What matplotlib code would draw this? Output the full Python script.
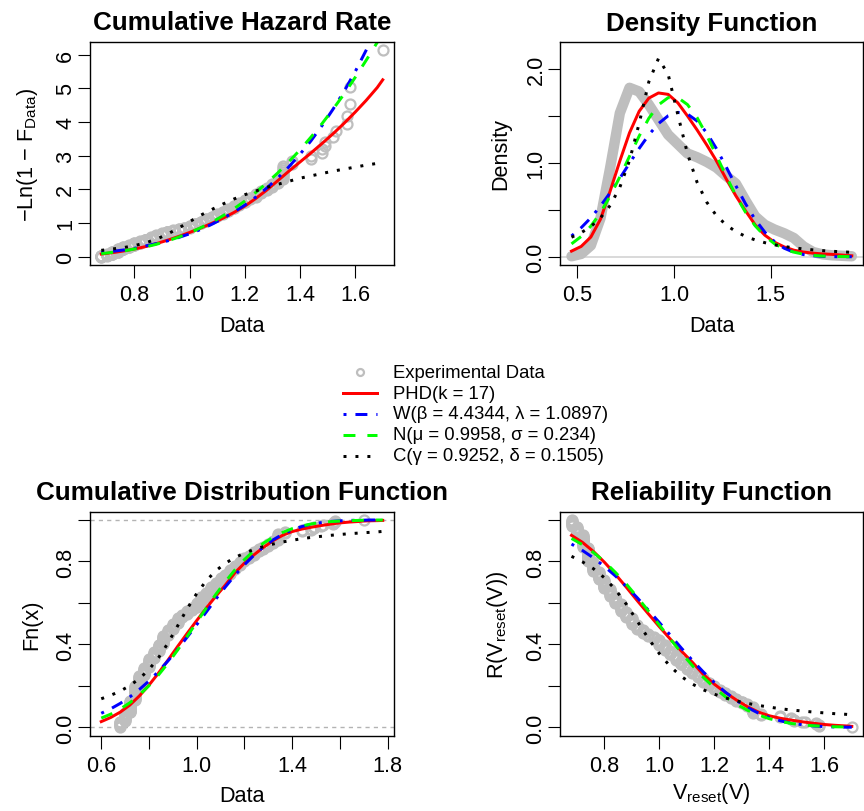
import numpy as np
import matplotlib
matplotlib.use("Agg")
import matplotlib.pyplot as plt

plt.rcParams['font.family'] = 'Liberation Sans'
plt.rcParams['mathtext.fontset'] = 'custom'
plt.rcParams['mathtext.rm'] = 'Liberation Sans'
plt.rcParams['mathtext.it'] = 'Liberation Sans:italic'
plt.rcParams['mathtext.bf'] = 'Liberation Sans:bold'

# experimental V_reset sample: measured value and how often it occurs
v_values = [0.68, 0.70, 0.72, 0.74, 0.76, 0.78, 0.80, 0.82, 0.84, 0.86, 0.88, 0.90,
            0.92, 0.94, 0.96, 0.98, 1.00, 1.02, 1.04, 1.06, 1.08, 1.10, 1.12, 1.14,
            1.16, 1.18, 1.20, 1.22, 1.24, 1.26, 1.28, 1.30, 1.32, 1.34, 1.37, 1.44,
            1.48, 1.49, 1.52, 1.53, 1.57, 1.58, 1.70]
v_counts = [7, 9, 14, 16, 11, 9, 10, 8, 8, 9, 7, 7,
            6, 4, 4, 3, 6, 6, 5, 6, 5, 5, 4, 5,
            5, 4, 4, 3, 4, 3, 3, 3, 3, 8, 2, 2,
            2, 2, 1, 1, 2, 2, 1]

# fitted CDFs
cdf_x = [0.60, 0.64, 0.68, 0.72, 0.76, 0.80, 0.84, 0.88, 0.92, 0.96, 1.00, 1.04,
         1.08, 1.12, 1.16, 1.20, 1.24, 1.28, 1.32, 1.36, 1.40, 1.44, 1.48, 1.52,
         1.56, 1.60, 1.64, 1.68, 1.70, 1.72, 1.76, 1.78]
cdf_phd = [0.028, 0.048, 0.074, 0.108, 0.152, 0.204, 0.262, 0.325, 0.390, 0.453, 0.515, 0.575,
           0.632, 0.686, 0.745, 0.792, 0.832, 0.868, 0.900, 0.926, 0.944, 0.956, 0.965, 0.973,
           0.980, 0.986, 0.990, 0.993, 0.995, 0.996, 0.997, 0.998]
cdf_weib = [0.068, 0.090, 0.116, 0.147, 0.183, 0.224, 0.270, 0.321, 0.376, 0.435, 0.495, 0.556,
            0.618, 0.677, 0.733, 0.784, 0.830, 0.870, 0.904, 0.931, 0.952, 0.968, 0.980, 0.987,
            0.993, 0.996, 0.998, 0.999, 0.999, 1.000, 1.000, 1.000]
cdf_norm = [0.045, 0.064, 0.089, 0.119, 0.157, 0.201, 0.253, 0.310, 0.373, 0.439, 0.507, 0.575,
            0.641, 0.702, 0.759, 0.809, 0.852, 0.888, 0.917, 0.940, 0.958, 0.971, 0.981, 0.988,
            0.992, 0.995, 0.997, 0.998, 0.999, 0.999, 1.000, 1.000]
cdf_cauchy = [0.138, 0.155, 0.175, 0.202, 0.235, 0.279, 0.336, 0.407, 0.489, 0.572, 0.645, 0.707,
              0.755, 0.791, 0.819, 0.840, 0.858, 0.872, 0.884, 0.894, 0.902, 0.910, 0.916, 0.921,
              0.926, 0.930, 0.934, 0.937, 0.939, 0.940, 0.943, 0.945]

# fitted cumulative hazard
haz_x = [0.68, 0.72, 0.76, 0.80, 0.84, 0.88, 0.92, 0.96, 1.00, 1.04, 1.08, 1.12, 1.16,
         1.20, 1.24, 1.28, 1.32, 1.36, 1.40, 1.44, 1.48, 1.52, 1.56, 1.60, 1.64, 1.68, 1.70]
haz_phd = [0.08, 0.12, 0.17, 0.23, 0.30, 0.39, 0.49, 0.60, 0.72, 0.85, 0.99, 1.14, 1.31,
           1.50, 1.73, 1.98, 2.26, 2.54, 2.81, 3.08, 3.36, 3.65, 3.96, 4.29, 4.64, 5.02, 5.25]
haz_weib = [0.12, 0.16, 0.20, 0.25, 0.32, 0.39, 0.47, 0.57, 0.68, 0.81, 0.96, 1.13, 1.32,
            1.53, 1.77, 2.04, 2.34, 2.67, 3.04, 3.44, 3.89, 4.38, 4.91, 5.49, 6.13, 6.82, 7.19]
haz_norm = [0.09, 0.13, 0.17, 0.23, 0.29, 0.37, 0.47, 0.58, 0.71, 0.86, 1.02, 1.21, 1.42,
            1.65, 1.91, 2.19, 2.49, 2.82, 3.17, 3.55, 3.95, 4.38, 4.83, 5.32, 5.83, 6.36, 6.64]
haz_cauchy = [0.19, 0.23, 0.27, 0.33, 0.41, 0.52, 0.67, 0.85, 1.04, 1.23, 1.40, 1.56, 1.71,
              1.84, 1.95, 2.06, 2.15, 2.24, 2.33, 2.40, 2.47, 2.54, 2.60, 2.66, 2.72, 2.77, 2.80]

# densities (kernel estimate of the data + fitted pdfs)
dens_x = [0.47, 0.52, 0.57, 0.62, 0.67, 0.72, 0.77, 0.82, 0.87, 0.92, 0.97, 1.02, 1.07, 1.12, 1.17,
          1.22, 1.27, 1.32, 1.37, 1.42, 1.47, 1.52, 1.57, 1.62, 1.67, 1.72, 1.77, 1.82, 1.87, 1.92]
dens_data = [0.005, 0.03, 0.12, 0.41, 0.95, 1.53, 1.80, 1.76, 1.62, 1.46, 1.30, 1.20, 1.10, 1.06, 1.01,
             0.95, 0.86, 0.78, 0.60, 0.43, 0.34, 0.29, 0.25, 0.20, 0.11, 0.05, 0.025, 0.015, 0.01, 0.005]
dens_phd = [0.06, 0.11, 0.21, 0.40, 0.70, 1.02, 1.32, 1.55, 1.69, 1.745, 1.73, 1.64, 1.50, 1.35, 1.19,
            1.02, 0.83, 0.65, 0.49, 0.34, 0.23, 0.155, 0.105, 0.07, 0.05, 0.038, 0.03, 0.025, 0.018, 0.01]
dens_weib = [0.221, 0.309, 0.415, 0.541, 0.682, 0.836, 0.996, 1.154, 1.299, 1.419, 1.502, 1.538, 1.520,
             1.446, 1.319, 1.151, 0.958, 0.757, 0.565, 0.397, 0.262, 0.161, 0.091, 0.048, 0.023,
             0.010, 0.004, 0.001, 0.0, 0.0]
dens_norm = [0.137, 0.216, 0.326, 0.469, 0.647, 0.851, 1.070, 1.286, 1.475, 1.618, 1.695, 1.696, 1.621,
             1.481, 1.292, 1.077, 0.858, 0.653, 0.475, 0.330, 0.219, 0.139, 0.084, 0.049, 0.027,
             0.014, 0.007, 0.003, 0.002, 0.001]
dens_cauchy = [0.208, 0.256, 0.322, 0.414, 0.546, 0.740, 1.025, 1.421, 1.864, 2.113, 1.943, 1.514, 1.098,
               0.791, 0.580, 0.437, 0.339, 0.268, 0.217, 0.179, 0.150, 0.127, 0.109, 0.095, 0.083,
               0.073, 0.065, 0.058, 0.052, 0.047]

legend_labels = ['Experimental Data', 'PHD(k = 17)', 'W(β = 4.4344, λ = 1.0897)',
                 'N(μ = 0.9958, σ = 0.234)', 'C(γ = 0.9252, δ = 0.1505)']

GRAY = '#BEBEBE'
LW = 2.15
styles = [('#FF0000', '-'), ('#0000FF', (0, (1, 3, 4, 3))),
          ('#00FF00', (0, (4, 4))), ('#000000', (0, (1, 3)))]

W_PX, H_PX, DPI = 864, 812, 100
fig = plt.figure(figsize=(W_PX / DPI, H_PX / DPI), dpi=DPI)


def px_axes(left, top, right, bottom):
    return fig.add_axes([left / W_PX, 1 - bottom / H_PX, (right - left) / W_PX, (bottom - top) / H_PX])


def r_range(lo, hi):
    d = (hi - lo) * 0.04
    return lo - d, hi + d


def finish(ax, title, xlabel, ylabel, xoff, yoff, xticks, xlabs, yticks, ylabs):
    ax.set_xticks(xticks)
    ax.set_xticklabels(xlabs)
    ax.set_yticks(yticks)
    ax.set_yticklabels(ylabs)
    ax.set_title(title, fontsize=18.7, fontweight='bold', pad=9)
    ax.set_xlabel(xlabel, fontsize=15.6, va='center')
    ax.set_ylabel(ylabel, fontsize=15.6, va='center')
    pos = ax.get_position()
    ax.xaxis.set_label_coords(0.5, -xoff / (pos.height * H_PX))
    ax.yaxis.set_label_coords(-yoff / (pos.width * W_PX), 0.5)
    ax.tick_params(length=9, width=0.8, labelsize=15.6)
    ax.tick_params(axis='x', pad=5)
    ax.tick_params(axis='y', labelrotation=90, pad=1)
    plt.setp(ax.get_yticklabels(), va='center')
    for s in ax.spines.values():
        s.set_linewidth(1.0)


sample = np.repeat(v_values, v_counts)
n = len(sample)
f_emp = (np.arange(1, n + 1) - 0.5) / n
h_emp = -np.log(1 - f_emp)
r_emp = 1 - f_emp

cdf_x = np.array(cdf_x)
cdfs = [np.array(c) for c in (cdf_phd, cdf_weib, cdf_norm, cdf_cauchy)]
hazs = [haz_phd, haz_weib, haz_norm, haz_cauchy]
denss = [dens_phd, dens_weib, dens_norm, dens_cauchy]
in_range = (cdf_x >= sample.min()) & (cdf_x <= sample.max())

mk = dict(ls='none', marker='o', mfc='none', mec=GRAY, ms=7.2, mew=1.6)

# Cumulative hazard
ax1 = px_axes(90, 43, 394, 266)
ax1.plot(sample, h_emp, **mk)
for (col, ls), h in zip(styles, hazs):
    ax1.plot(haz_x, h, color=col, ls=ls, lw=LW)
ax1.set_xlim(r_range(sample.min(), sample.max()))
ax1.set_ylim(r_range(0, h_emp.max()))
finish(ax1, 'Cumulative Hazard Rate', 'Data', '−Ln(1 − F$_{\\mathrm{Data}}$)', 61, 63,
       [0.8, 1.0, 1.2, 1.4, 1.6], ['0.8', '1.0', '1.2', '1.4', '1.6'],
       range(7), [str(i) for i in range(7)])

# Density
ax2 = px_axes(560.3, 43, 863, 266)
ax2.axhline(0, color='#D3D3D3', lw=1.2)
ax2.plot(dens_x, dens_data, color=GRAY, lw=7.5, solid_capstyle='round')
for (col, ls), d in zip(styles, denss):
    ax2.plot(dens_x, d, color=col, ls=ls, lw=LW)
ax2.set_xlim(r_range(dens_x[0], dens_x[-1]))
ax2.set_ylim(r_range(0, 2.2))
finish(ax2, 'Density Function', 'Data', 'Density', 61, 60,
       [0.5, 1.0, 1.5], ['0.5', '1.0', '1.5'],
       [0, 0.5, 1.0, 1.5, 2.0], ['0.0', '', '1.0', '', '2.0'])

# CDF
ax3 = px_axes(90, 512.7, 394, 736.7)
for yv in (0, 1):
    ax3.axhline(yv, color='#B3B3B3', lw=1.0, ls=(0, (3, 3)))
ax3.plot(sample, f_emp, **mk)
for (col, ls), c in zip(styles, cdfs):
    ax3.plot(cdf_x, c, color=col, ls=ls, lw=LW)
ax3.set_xlim(r_range(cdf_x[0], cdf_x[-1]))
ax3.set_ylim(r_range(0, 1))
finish(ax3, 'Cumulative Distribution Function', 'Data', 'Fn(x)', 60, 58,
       [0.6, 0.8, 1.0, 1.2, 1.4, 1.6, 1.8], ['0.6', '', '1.0', '', '1.4', '', '1.8'],
       [0, 0.2, 0.4, 0.6, 0.8, 1.0], ['0.0', '', '0.4', '', '0.8', ''])

# Reliability
ax4 = px_axes(560.3, 512.7, 863, 736.7)
ax4.plot(sample, r_emp, **mk)
for (col, ls), c in zip(styles, cdfs):
    ax4.plot(cdf_x[in_range], 1 - c[in_range], color=col, ls=ls, lw=LW)
ax4.set_xlim(r_range(sample.min(), sample.max()))
ax4.set_ylim(r_range(0, 1))
finish(ax4, 'Reliability Function', 'V$_{\\mathrm{reset}}$(V)', 'R(V$_{\\mathrm{reset}}$(V))', 57, 63,
       [0.8, 1.0, 1.2, 1.4, 1.6], ['0.8', '1.0', '1.2', '1.4', '1.6'],
       [0, 0.2, 0.4, 0.6, 0.8, 1.0], ['0.0', '', '0.4', '', '0.8', ''])

# shared legend in the middle
leg = px_axes(330, 362, 620, 468)
leg.set_xlim(0, 1)
leg.set_ylim(4.542, -0.542)
leg.axis('off')
leg.plot([0.1045], [0], ls='none', marker='o', mfc='none', mec=GRAY, ms=5, mew=1.6)
for i, (col, ls) in enumerate(styles, start=1):
    leg.plot([0.046, 0.163], [i, i], color=col, ls=ls, lw=LW)
for i, lab in enumerate(legend_labels):
    leg.text(0.218, i, lab, va='center', ha='left', fontsize=13.3)

fig.savefig('out.png', dpi=DPI)
